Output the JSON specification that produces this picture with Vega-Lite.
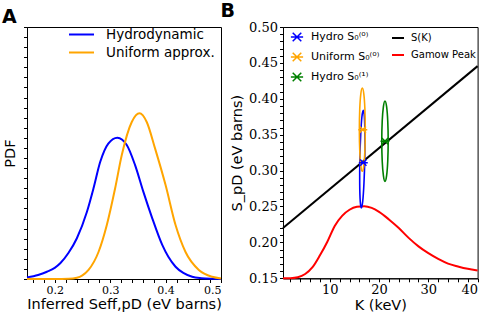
{
  "$schema": "https://vega.github.io/schema/vega-lite/v6.json",
  "padding": {"left": 1, "top": 1, "right": 0, "bottom": 0},
  "spacing": -6,
  "config": {
    "view": {"stroke": "black", "strokeWidth": 1},
    "axis": {
      "grid": false, "domainColor": "black", "tickColor": "black", "tickSize": 3.5,
      "labelFont": "DejaVu Serif", "labelColor": "black", "labelFontSize": 13,
      "titleFont": "DejaVu Sans", "titleFontWeight": "normal", "titleColor": "black", "titleFontSize": 14.5
    },
    "legend": {"labelFont": "DejaVu Sans", "labelColor": "black", "padding": 0, "title": null},
    "title": {"font": "DejaVu Sans", "fontWeight": "bold", "fontSize": 19, "anchor": "start", "color": "black"}
  },
  "datasets": {
    "pdf": [
      {"x": 0.15, "pdf": 0.08, "series": "Hydrodynamic"},
      {"x": 0.17, "pdf": 0.2, "series": "Hydrodynamic"},
      {"x": 0.186, "pdf": 0.36, "series": "Hydrodynamic"},
      {"x": 0.2, "pdf": 0.55, "series": "Hydrodynamic"},
      {"x": 0.21, "pdf": 0.78, "series": "Hydrodynamic"},
      {"x": 0.225, "pdf": 1.3, "series": "Hydrodynamic"},
      {"x": 0.24, "pdf": 2.02, "series": "Hydrodynamic"},
      {"x": 0.258, "pdf": 3.32, "series": "Hydrodynamic"},
      {"x": 0.27, "pdf": 4.5, "series": "Hydrodynamic"},
      {"x": 0.282, "pdf": 5.8, "series": "Hydrodynamic"},
      {"x": 0.297, "pdf": 6.73, "series": "Hydrodynamic"},
      {"x": 0.313, "pdf": 7.01, "series": "Hydrodynamic"},
      {"x": 0.33, "pdf": 6.65, "series": "Hydrodynamic"},
      {"x": 0.345, "pdf": 5.65, "series": "Hydrodynamic"},
      {"x": 0.36, "pdf": 4.32, "series": "Hydrodynamic"},
      {"x": 0.376, "pdf": 3.01, "series": "Hydrodynamic"},
      {"x": 0.394, "pdf": 1.69, "series": "Hydrodynamic"},
      {"x": 0.405, "pdf": 1.1, "series": "Hydrodynamic"},
      {"x": 0.418, "pdf": 0.61, "series": "Hydrodynamic"},
      {"x": 0.432, "pdf": 0.3, "series": "Hydrodynamic"},
      {"x": 0.448, "pdf": 0.11, "series": "Hydrodynamic"},
      {"x": 0.465, "pdf": 0.04, "series": "Hydrodynamic"},
      {"x": 0.484, "pdf": 0.01, "series": "Hydrodynamic"},
      {"x": 0.5, "pdf": 0.0, "series": "Hydrodynamic"},
      {"x": 0.15, "pdf": 0.0, "series": "Uniform approx."},
      {"x": 0.2, "pdf": 0.0, "series": "Uniform approx."},
      {"x": 0.225, "pdf": 0.01, "series": "Uniform approx."},
      {"x": 0.24, "pdf": 0.06, "series": "Uniform approx."},
      {"x": 0.25, "pdf": 0.18, "series": "Uniform approx."},
      {"x": 0.261, "pdf": 0.45, "series": "Uniform approx."},
      {"x": 0.279, "pdf": 1.34, "series": "Uniform approx."},
      {"x": 0.294, "pdf": 2.68, "series": "Uniform approx."},
      {"x": 0.309, "pdf": 4.5, "series": "Uniform approx."},
      {"x": 0.321, "pdf": 6.15, "series": "Uniform approx."},
      {"x": 0.339, "pdf": 7.79, "series": "Uniform approx."},
      {"x": 0.353, "pdf": 8.22, "series": "Uniform approx."},
      {"x": 0.366, "pdf": 7.79, "series": "Uniform approx."},
      {"x": 0.381, "pdf": 6.48, "series": "Uniform approx."},
      {"x": 0.4, "pdf": 4.66, "series": "Uniform approx."},
      {"x": 0.418, "pdf": 2.68, "series": "Uniform approx."},
      {"x": 0.436, "pdf": 1.34, "series": "Uniform approx."},
      {"x": 0.46, "pdf": 0.45, "series": "Uniform approx."},
      {"x": 0.484, "pdf": 0.11, "series": "Uniform approx."},
      {"x": 0.5, "pdf": 0.03, "series": "Uniform approx."}
    ],
    "lines": [
      {"K": 0.5, "S": 0.22, "series": "S(K)"},
      {"K": 40, "S": 0.4455, "series": "S(K)"},
      {"K": 0.5, "S": 0.15, "series": "Gamow Peak"},
      {"K": 2, "S": 0.1502, "series": "Gamow Peak"},
      {"K": 3.5, "S": 0.1515, "series": "Gamow Peak"},
      {"K": 5, "S": 0.156, "series": "Gamow Peak"},
      {"K": 6.5, "S": 0.1655, "series": "Gamow Peak"},
      {"K": 8, "S": 0.182, "series": "Gamow Peak"},
      {"K": 9.5, "S": 0.201, "series": "Gamow Peak"},
      {"K": 11, "S": 0.223, "series": "Gamow Peak"},
      {"K": 12.5, "S": 0.237, "series": "Gamow Peak"},
      {"K": 14, "S": 0.2455, "series": "Gamow Peak"},
      {"K": 15.5, "S": 0.2495, "series": "Gamow Peak"},
      {"K": 17, "S": 0.2503, "series": "Gamow Peak"},
      {"K": 18.5, "S": 0.248, "series": "Gamow Peak"},
      {"K": 20, "S": 0.2425, "series": "Gamow Peak"},
      {"K": 22, "S": 0.232, "series": "Gamow Peak"},
      {"K": 24, "S": 0.22, "series": "Gamow Peak"},
      {"K": 26, "S": 0.2063, "series": "Gamow Peak"},
      {"K": 28, "S": 0.1945, "series": "Gamow Peak"},
      {"K": 30, "S": 0.185, "series": "Gamow Peak"},
      {"K": 32, "S": 0.177, "series": "Gamow Peak"},
      {"K": 34, "S": 0.1705, "series": "Gamow Peak"},
      {"K": 36, "S": 0.1665, "series": "Gamow Peak"},
      {"K": 38, "S": 0.1632, "series": "Gamow Peak"},
      {"K": 40, "S": 0.161, "series": "Gamow Peak"}
    ],
    "ellipses": [
      {"i": 0, "K": 17.1, "S": 0.316, "series": "Hydro S₀⁽⁰⁾"},
      {"i": 1, "K": 17.13, "S": 0.35, "series": "Hydro S₀⁽⁰⁾"},
      {"i": 2, "K": 17.02, "S": 0.375, "series": "Hydro S₀⁽⁰⁾"},
      {"i": 3, "K": 16.8, "S": 0.384, "series": "Hydro S₀⁽⁰⁾"},
      {"i": 4, "K": 16.52, "S": 0.375, "series": "Hydro S₀⁽⁰⁾"},
      {"i": 5, "K": 16.27, "S": 0.35, "series": "Hydro S₀⁽⁰⁾"},
      {"i": 6, "K": 16.1, "S": 0.316, "series": "Hydro S₀⁽⁰⁾"},
      {"i": 7, "K": 16.07, "S": 0.282, "series": "Hydro S₀⁽⁰⁾"},
      {"i": 8, "K": 16.18, "S": 0.257, "series": "Hydro S₀⁽⁰⁾"},
      {"i": 9, "K": 16.4, "S": 0.248, "series": "Hydro S₀⁽⁰⁾"},
      {"i": 10, "K": 16.68, "S": 0.257, "series": "Hydro S₀⁽⁰⁾"},
      {"i": 11, "K": 16.93, "S": 0.282, "series": "Hydro S₀⁽⁰⁾"},
      {"i": 0, "K": 17.2, "S": 0.357, "series": "Uniform S₀⁽⁰⁾"},
      {"i": 1, "K": 17.12, "S": 0.386, "series": "Uniform S₀⁽⁰⁾"},
      {"i": 2, "K": 16.9, "S": 0.407, "series": "Uniform S₀⁽⁰⁾"},
      {"i": 3, "K": 16.6, "S": 0.415, "series": "Uniform S₀⁽⁰⁾"},
      {"i": 4, "K": 16.3, "S": 0.407, "series": "Uniform S₀⁽⁰⁾"},
      {"i": 5, "K": 16.08, "S": 0.386, "series": "Uniform S₀⁽⁰⁾"},
      {"i": 6, "K": 16.0, "S": 0.357, "series": "Uniform S₀⁽⁰⁾"},
      {"i": 7, "K": 16.08, "S": 0.328, "series": "Uniform S₀⁽⁰⁾"},
      {"i": 8, "K": 16.3, "S": 0.307, "series": "Uniform S₀⁽⁰⁾"},
      {"i": 9, "K": 16.6, "S": 0.299, "series": "Uniform S₀⁽⁰⁾"},
      {"i": 10, "K": 16.9, "S": 0.307, "series": "Uniform S₀⁽⁰⁾"},
      {"i": 11, "K": 17.12, "S": 0.328, "series": "Uniform S₀⁽⁰⁾"},
      {"i": 0, "K": 21.85, "S": 0.341, "series": "Hydro S₀⁽¹⁾"},
      {"i": 1, "K": 21.76, "S": 0.369, "series": "Hydro S₀⁽¹⁾"},
      {"i": 2, "K": 21.53, "S": 0.389, "series": "Hydro S₀⁽¹⁾"},
      {"i": 3, "K": 21.2, "S": 0.397, "series": "Hydro S₀⁽¹⁾"},
      {"i": 4, "K": 20.88, "S": 0.389, "series": "Hydro S₀⁽¹⁾"},
      {"i": 5, "K": 20.64, "S": 0.369, "series": "Hydro S₀⁽¹⁾"},
      {"i": 6, "K": 20.55, "S": 0.341, "series": "Hydro S₀⁽¹⁾"},
      {"i": 7, "K": 20.64, "S": 0.313, "series": "Hydro S₀⁽¹⁾"},
      {"i": 8, "K": 20.88, "S": 0.293, "series": "Hydro S₀⁽¹⁾"},
      {"i": 9, "K": 21.2, "S": 0.285, "series": "Hydro S₀⁽¹⁾"},
      {"i": 10, "K": 21.53, "S": 0.293, "series": "Hydro S₀⁽¹⁾"},
      {"i": 11, "K": 21.76, "S": 0.313, "series": "Hydro S₀⁽¹⁾"}
    ],
    "markers": [
      {"K": 16.8, "S": 0.311, "series": "Hydro S₀⁽⁰⁾"},
      {"K": 16.7, "S": 0.357, "series": "Uniform S₀⁽⁰⁾"},
      {"K": 21.2, "S": 0.341, "series": "Hydro S₀⁽¹⁾"}
    ]
  },
  "hconcat": [
    {
      "width": 194,
      "height": 252,
      "title": {"text": "A", "dx": 0, "offset": 0},
      "data": {"name": "pdf"},
      "mark": {"type": "line", "strokeWidth": 2, "interpolate": "monotone"},
      "encoding": {
        "x": {
          "field": "x", "type": "quantitative",
          "scale": {"domain": [0.15, 0.5], "nice": false, "zero": false},
          "axis": {
            "title": "Inferred Seff,pD (eV barns)", "labelFontSize": 11,
            "values": [0.16, 0.18, 0.2, 0.22, 0.24, 0.26, 0.28, 0.3, 0.32, 0.34, 0.36, 0.38, 0.4, 0.42, 0.44, 0.46, 0.48, 0.5],
            "labelExpr": "round(datum.value*100) % 10 == 0 ? format(datum.value, '.1f') : ''",
            "titlePadding": 2
          }
        },
        "y": {
          "field": "pdf", "type": "quantitative",
          "scale": {"domain": [0, 12.5], "nice": false},
          "axis": {
            "title": "PDF", "labels": false, "titlePadding": 6,
            "values": [0, 0.5, 1, 1.5, 2, 2.5, 3, 3.5, 4, 4.5, 5, 5.5, 6, 6.5, 7, 7.5, 8, 8.5, 9, 9.5, 10, 10.5, 11, 11.5, 12, 12.5]
          }
        },
        "color": {
          "field": "series", "type": "nominal",
          "scale": {"domain": ["Hydrodynamic", "Uniform approx."], "range": ["#0000ff", "#ffa500"]},
          "legend": {
            "orient": "none", "legendX": 47, "legendY": 0,
            "symbolType": "M-2,0L2,0", "symbolSize": 156, "symbolStrokeWidth": 2,
            "labelFontSize": 13.5, "labelOffset": 17, "rowPadding": 4
          }
        }
      }
    },
    {
      "width": 194.6,
      "height": 251.3,
      "title": {"text": "B", "dx": -9, "offset": 0},
      "encoding": {
        "x": {
          "field": "K", "type": "quantitative",
          "scale": {"domain": [0.5, 40], "nice": false, "zero": false},
          "axis": {
            "title": "K (keV)", "titlePadding": 2,
            "values": [2, 4, 6, 8, 10, 12, 14, 16, 18, 20, 22, 24, 26, 28, 30, 32, 34, 36, 38, 40],
            "labelExpr": "datum.value % 10 == 0 ? format(datum.value, 'd') : ''"
          }
        },
        "y": {
          "field": "S", "type": "quantitative",
          "scale": {"domain": [0.15, 0.5], "nice": false, "zero": false},
          "axis": {
            "title": "S_pD (eV barns)", "titlePadding": 4,
            "values": [0.15, 0.16, 0.17, 0.18, 0.19, 0.2, 0.21, 0.22, 0.23, 0.24, 0.25, 0.26, 0.27, 0.28, 0.29, 0.3, 0.31, 0.32, 0.33, 0.34, 0.35, 0.36, 0.37, 0.38, 0.39, 0.4, 0.41, 0.42, 0.43, 0.44, 0.45, 0.46, 0.47, 0.48, 0.49, 0.5],
            "labelExpr": "round(datum.value*100) % 5 == 0 ? format(datum.value, '.2f') : ''"
          }
        }
      },
      "layer": [
        {
          "data": {"name": "lines"},
          "mark": {"type": "line", "strokeWidth": 2, "interpolate": "monotone"},
          "encoding": {
            "color": {
              "field": "series", "type": "nominal",
              "scale": {"domain": ["S(K)", "Gamow Peak"], "range": ["black", "#ff0000"]},
              "legend": {
                "orient": "none", "legendX": 108, "legendY": 4,
                "symbolType": "stroke", "symbolSize": 144, "symbolStrokeWidth": 2,
                "labelFontSize": 10, "labelOffset": 6, "rowPadding": 5
              }
            }
          }
        },
        {
          "data": {"name": "ellipses"},
          "mark": {"type": "line", "strokeWidth": 1.6, "interpolate": "cardinal-closed"},
          "encoding": {
            "order": {"field": "i", "type": "quantitative"},
            "color": {
              "field": "series", "type": "nominal",
              "scale": {"domain": ["Hydro S₀⁽⁰⁾", "Uniform S₀⁽⁰⁾", "Hydro S₀⁽¹⁾"], "range": ["#0000ff", "#ffa500", "#008000"]},
              "legend": null
            }
          }
        },
        {
          "data": {"name": "markers"},
          "mark": {"type": "point", "filled": false, "strokeWidth": 1.5, "size": 80, "opacity": 1,
                   "shape": "M-0.7,-0.7L0.7,0.7M-0.7,0.7L0.7,-0.7M-1,0L1,0"},
          "encoding": {
            "color": {
              "field": "series", "type": "nominal",
              "scale": {"domain": ["Hydro S₀⁽⁰⁾", "Uniform S₀⁽⁰⁾", "Hydro S₀⁽¹⁾"], "range": ["#0000ff", "#ffa500", "#008000"]},
              "legend": {
                "orient": "none", "legendX": 7, "legendY": 3,
                "symbolType": "M-0.7,-0.7L0.7,0.7M-0.7,0.7L0.7,-0.7M-1,0L1,0", "symbolSize": 150,
                "symbolStrokeWidth": 1.5, "symbolFillColor": "transparent",
                "labelFontSize": 11, "labelOffset": 7, "rowPadding": 4
              }
            }
          }
        }
      ],
      "resolve": {"scale": {"color": "independent"}}
    }
  ]
}
